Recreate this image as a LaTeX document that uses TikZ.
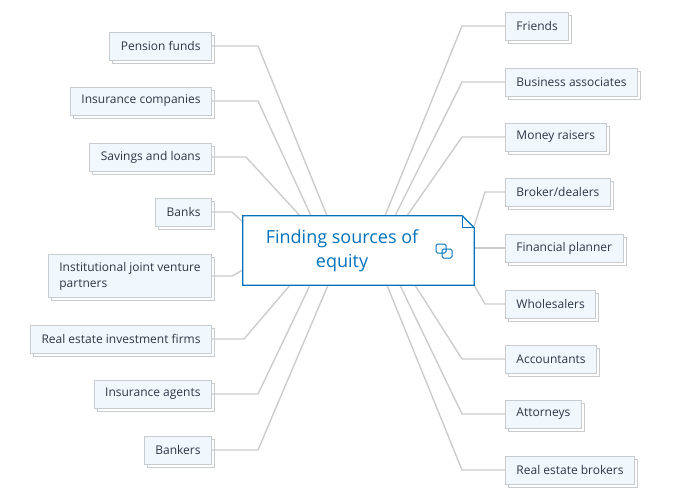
\documentclass[tikz,border=0pt]{standalone}
\usepackage{fontspec}
\setmainfont{Open Sans}
\usetikzlibrary{positioning,shadows}
\definecolor{leaffill}{RGB}{240,247,253}
\definecolor{leafline}{RGB}{200,204,208}
\definecolor{wire}{RGB}{204,204,204}
\definecolor{hubblue}{RGB}{0,114,188}
\definecolor{ink}{RGB}{45,55,70}
\tikzset{
  leaf/.style={draw=leafline, fill=leaffill, line width=0.9pt, text=ink,
    font=\fontsize{12}{16}\selectfont, inner xsep=11pt, minimum height=28pt,
    align=left,
    general shadow={shadow xshift=3pt, shadow yshift=-3pt, fill=white, draw=leafline, line width=0.9pt}},
  link/.style={draw=wire, line width=1.4pt},
}
\begin{document}
\begin{tikzpicture}[x=1pt,y=-1pt]
\useasboundingbox (0,0) rectangle (676,500);

% hub
\node[minimum width=231pt, minimum height=69pt, inner sep=0pt] (hub) at (358.5,250.5) {};

% left branches: name/text/y/bend x
\foreach \n/\t/\y/\bx in {pf/Pension funds/46/258,
  ic/Insurance companies/101/258,
  sl/Savings and loans/157/246,
  rf/Real estate investment firms/339/244,
  ia/Insurance agents/394/258,
  bk/Bankers/450/258}{
  \node[leaf, anchor=east] (\n) at (212,\y) {\t};
  \coordinate (\n bend) at (\bx,\y);
}
\node[leaf, anchor=east] (ba) at (212,212) {Banks};
\node[leaf, anchor=east, minimum height=43pt] (ij) at (212,276) {Institutional joint venture\\partners};

\foreach \n/\ex in {pf/327,ic/311,sl/300}
  \draw[link] (\n) -- (\n bend) -- (hub.north -| \ex,0);
\foreach \n/\ex in {rf/290,ia/310,bk/328}
  \draw[link] (\n) -- (\n bend) -- (hub.south -| \ex,0);
\draw[link] (ba) -- (232,212) -- (hub.west |- 0,222);
\draw[link] (ij) -- (232,276) -- (hub.west |- 0,270);

% right branches
\foreach \n/\t/\y in {fr/Friends/26, bs/Business associates/82, mr/Money raisers/137,
  bd/Broker\slash dealers/192, fp/Financial planner/248, ws/Wholesalers/304,
  ac/Accountants/359, at/Attorneys/414, rb/Real estate brokers/470}
  \node[leaf, anchor=west] (\n) at (505,\y) {\t};

\foreach \n/\y/\ex in {fr/26/385, bs/82/395, mr/137/407}
  \draw[link] (\n) -- (462,\y) -- (hub.north -| \ex,0);
\foreach \n/\y/\ex in {ac/359/415, at/414/400, rb/470/387}
  \draw[link] (\n) -- (462,\y) -- (hub.south -| \ex,0);
\draw[link] (bd) -- (485,192) -- (hub.east |- 0,226);
\draw[link] (fp) -- (hub.east |- fp);
\draw[link] (ws) -- (485,304) -- (hub.south east);

% hub box with folded corner
\draw[hubblue, fill=white, line width=1.2pt] (hub.north west) -- ([xshift=-12pt]hub.north east)
  -- ([yshift=-12pt]hub.north east) -- (hub.south east) -- (hub.south west) -- cycle;
\draw[hubblue, line width=1pt] ([xshift=-12pt]hub.north east) -- ([xshift=-12pt,yshift=-12pt]hub.north east)
  -- ([yshift=-12pt]hub.north east);
\node[text=hubblue, font=\fontsize{18}{24}\selectfont, align=center] (hubtext) at (342,251)
  {Finding sources of\\equity};
% link icon
\node (icon) at (444,251) {};
\draw[hubblue, line width=1pt, rounded corners=1.5pt] (436,244) rectangle (446,253);
\draw[hubblue, line width=1pt, rounded corners=1.5pt] (442,249) rectangle (452,258);
\end{tikzpicture}
\end{document}
